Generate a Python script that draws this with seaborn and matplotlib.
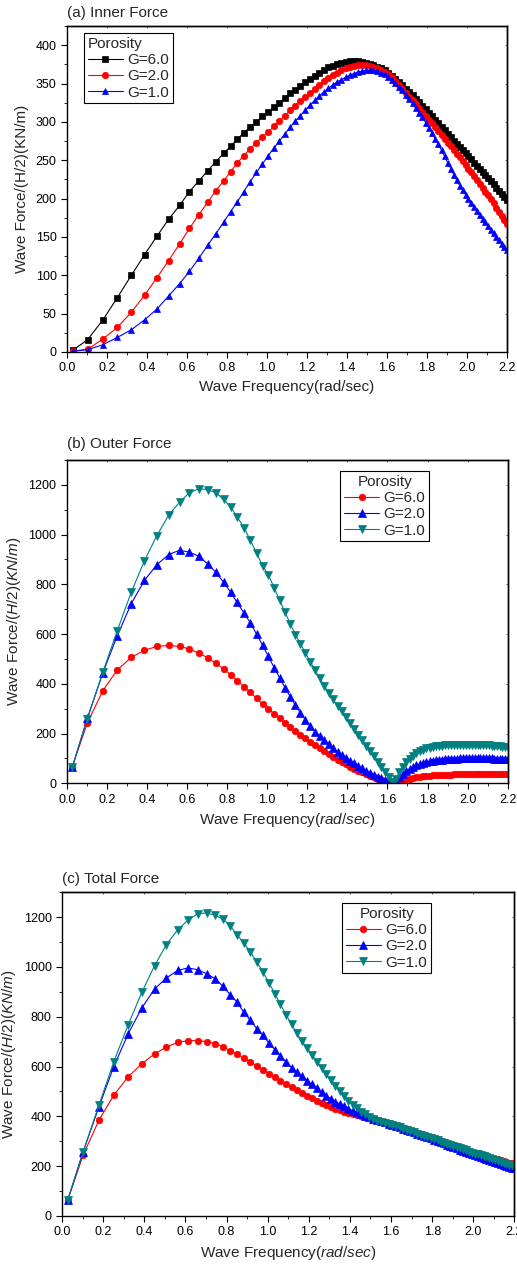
import numpy as np
import pandas as pd
import matplotlib
matplotlib.use("Agg")
import matplotlib.pyplot as plt
from matplotlib.ticker import MultipleLocator, FormatStrFormatter, NullFormatter
import seaborn as sns

# ---------------- data ----------------
freq = [0.028, 0.103, 0.180, 0.252, 0.322, 0.388, 0.450, 0.508, 0.563, 0.612,
        0.659, 0.703, 0.744, 0.783, 0.818, 0.850, 0.884, 0.916, 0.947, 0.977,
        1.006, 1.035, 1.062, 1.089, 1.116, 1.141, 1.166, 1.191, 1.215, 1.239,
        1.262, 1.285, 1.307, 1.329, 1.351, 1.372, 1.393, 1.414, 1.434, 1.454,
        1.474, 1.494, 1.513, 1.532, 1.551, 1.569, 1.588, 1.606, 1.624, 1.642,
        1.659, 1.676, 1.694, 1.711, 1.728, 1.744, 1.761, 1.777, 1.794, 1.810,
        1.826, 1.841, 1.857, 1.873, 1.888, 1.903, 1.919, 1.934, 1.949, 1.963,
        1.978, 1.993, 2.007, 2.022, 2.036, 2.050, 2.064, 2.078, 2.092, 2.106,
        2.120, 2.133, 2.147, 2.160, 2.174, 2.187, 2.200]

# (a) Inner force
inner_g6 = [2, 16, 42, 71, 100, 127, 151, 173, 191, 209,
            223, 236, 248, 259, 268, 277, 286, 293, 300, 307,
            313, 319, 325, 331, 337, 342, 347, 352, 356, 360,
            364, 368, 371, 373, 375, 377, 378, 379, 379, 379,
            378, 377, 376, 374, 372, 370, 367, 364, 360, 356,
            352, 348, 343, 339, 335, 330, 326, 321, 317, 312,
            307, 303, 298, 293, 289, 284, 280, 275, 271, 267,
            263, 259, 255, 251, 247, 243, 239, 235, 231, 227,
            223, 219, 214, 210, 206, 202, 198]
inner_g2 = [1, 3.5, 17, 32, 52, 74, 97, 119, 141, 161,
            179, 195, 210, 223, 235, 246, 256, 265, 273, 280,
            287, 294, 301, 308, 315, 321, 327, 333, 338, 343,
            348, 353, 357, 361, 364, 367, 370, 372, 373, 374,
            374, 374, 373, 372, 370, 368, 365, 362, 358, 353,
            348, 343, 338, 333, 328, 323, 318, 313, 308, 303,
            298, 293, 288, 283, 278, 273, 268, 263, 258, 254,
            249, 244, 239, 234, 229, 224, 219, 214, 209, 204,
            199, 194, 188, 183, 177, 172, 167]
inner_g1 = [1, 3, 9.5, 19, 29, 42, 56, 73, 89, 105,
            122, 139, 154, 169, 183, 195, 209, 222, 234, 245,
            256, 266, 275, 284, 293, 301, 308, 315, 322, 328,
            334, 339, 344, 348, 352, 355, 358, 361, 363, 365,
            366, 367, 367, 367, 366, 364, 362, 359, 355, 351,
            346, 341, 335, 330, 324, 318, 312, 306, 299, 292,
            285, 278, 271, 263, 255, 247, 239, 231, 224, 217,
            211, 205, 199, 194, 189, 184, 179, 174, 169, 164,
            159, 155, 150, 146, 141, 137, 133]

# (b) Outer force
outer_g6 = [67, 242, 372, 455, 506, 535, 550, 554, 550, 540,
            523, 505, 482, 460, 436, 413, 389, 365, 342, 319,
            299, 280, 262, 243, 226, 210, 196, 181, 167, 153,
            140, 128, 117, 106, 95, 85, 76, 67, 59, 51,
            44, 37, 31, 25, 19, 14, 9, 5, 1, 3,
            8, 12, 16, 19, 22, 25, 27, 29, 30, 31,
            32, 33, 34, 34, 35, 35, 35, 36, 36, 36,
            36, 36, 36, 36, 36, 37, 37, 37, 37, 37,
            37, 37, 37, 37, 37, 37, 37]
outer_g2 = [65, 262, 443, 593, 722, 816, 879, 919, 937, 929,
            913, 882, 848, 808, 768, 727, 685, 645, 600, 555,
            510, 465, 424, 385, 347, 313, 283, 255, 230, 208,
            189, 172, 156, 141, 127, 114, 102, 91, 80, 70,
            60, 51, 42, 34, 26, 20, 12, 6, 2, 10,
            25, 37, 48, 57, 65, 72, 77, 81, 85, 88,
            90, 92, 94, 95, 96, 97, 98, 99, 99, 100,
            100, 100, 100, 100, 100, 100, 100, 100, 100, 100,
            100, 99, 99, 98, 98, 97, 97]
outer_g1 = [65, 258, 446, 613, 768, 895, 996, 1077, 1130, 1168,
            1184, 1181, 1168, 1141, 1111, 1071, 1028, 978, 925, 875,
            838, 786, 736, 688, 640, 598, 561, 524, 489, 455,
            422, 392, 363, 337, 312, 289, 265, 241, 219, 196,
            174, 151, 130, 108, 87, 66, 45, 25, 6, 18,
            45, 66, 84, 99, 111, 121, 129, 135, 140, 143,
            146, 148, 150, 151, 152, 153, 154, 154, 154, 155,
            155, 155, 155, 154, 154, 154, 153, 153, 152, 152,
            151, 150, 149, 148, 147, 146, 145]

# (c) Total force
total_g6 = [64, 245, 385, 485, 559, 611, 651, 678, 697, 704,
            704, 700, 692, 680, 662, 649, 634, 619, 603, 588,
            572, 557, 543, 530, 518, 506, 494, 482, 472, 462,
            453, 445, 438, 431, 425, 419, 414, 409, 405, 401,
            397, 393, 389, 385, 381, 378, 374, 370, 365, 360,
            355, 350, 345, 340, 335, 330, 326, 321, 316, 311,
            307, 302, 298, 293, 289, 284, 280, 275, 271, 267,
            262, 258, 254, 251, 247, 244, 240, 237, 233, 230,
            227, 223, 220, 217, 214, 211, 208]
total_g2 = [64, 258, 439, 600, 732, 835, 911, 956, 986, 996,
            989, 973, 953, 922, 888, 860, 818, 786, 752, 726,
            694, 668, 643, 618, 595, 577, 560, 543, 528, 512,
            497, 483, 470, 459, 449, 440, 431, 423, 416, 409,
            402, 396, 391, 385, 380, 376, 371, 366, 361, 356,
            351, 346, 341, 336, 331, 326, 321, 316, 311, 306,
            301, 296, 291, 286, 281, 276, 271, 266, 261, 257,
            252, 248, 244, 240, 236, 232, 228, 224, 220, 216,
            212, 208, 204, 200, 197, 194, 191]
total_g1 = [64, 258, 446, 620, 768, 898, 1005, 1090, 1150, 1187,
            1213, 1217, 1208, 1192, 1166, 1130, 1097, 1060, 1020, 980,
            937, 893, 850, 808, 770, 735, 703, 675, 648, 620,
            594, 568, 545, 522, 500, 480, 462, 446, 432, 419,
            408, 398, 390, 383, 377, 373, 369, 366, 361, 356,
            351, 346, 341, 336, 331, 326, 322, 317, 312, 307,
            303, 298, 294, 289, 285, 280, 276, 271, 267, 263,
            258, 254, 250, 247, 243, 240, 236, 233, 229, 226,
            222, 218, 214, 210, 206, 203, 200]

labels = ["G=6.0", "G=2.0", "G=1.0"]

# ---------------- style ----------------
sns.set_style("ticks")
plt.rcParams["font.family"] = ["Liberation Sans", "DejaVu Sans"]
plt.rcParams["mathtext.fontset"] = "custom"
plt.rcParams["mathtext.rm"] = "Liberation Sans"
plt.rcParams["mathtext.it"] = "Liberation Sans:italic"
plt.rcParams["axes.linewidth"] = 1.0
plt.rcParams["axes.edgecolor"] = "black"

fig = plt.figure(figsize=(5.17, 12.67), dpi=100)


def draw(ax, ys, colors, markers, msizes, ylim, ymaj, ymin, title, tpad,
         xlabel, ylabel, ylpad, anchor, align):
    frames = [pd.DataFrame({"freq": freq, "force": y, "G": lab})
              for lab, y in zip(labels, ys)]
    df = pd.concat(frames, ignore_index=True)
    sns.lineplot(data=df, x="freq", y="force", hue="G", hue_order=labels,
                 style="G", style_order=labels,
                 markers=dict(zip(labels, markers)), dashes=False,
                 palette=dict(zip(labels, colors)), linewidth=0.8,
                 estimator=None, errorbar=None, legend=False, ax=ax)
    for line, ms in zip(ax.lines, msizes):
        line.set_markersize(ms)
        line.set_markeredgecolor(line.get_color())
        line.set_markeredgewidth(0.5)

    ax.set_xlim(0, 2.2)
    ax.set_ylim(*ylim)
    ax.xaxis.set_major_locator(MultipleLocator(0.2))
    ax.xaxis.set_minor_locator(MultipleLocator(0.1))
    ax.xaxis.set_major_formatter(FormatStrFormatter("%.1f"))
    ax.yaxis.set_major_locator(MultipleLocator(ymaj))
    ax.yaxis.set_minor_locator(MultipleLocator(ymin))
    ax.tick_params(which="major", direction="out", length=4, width=0.8,
                   labelsize=9, colors="black")
    ax.tick_params(which="minor", direction="out", length=2.2, width=0.7)
    ax.set_xlabel(xlabel, fontsize=11, labelpad=4)
    ax.set_ylabel(ylabel, fontsize=11, labelpad=ylpad)
    ax.set_title(title, loc="left", fontsize=11, pad=tpad)

    sx = ax.secondary_xaxis("top")
    sx.xaxis.set_major_locator(MultipleLocator(0.2))
    sx.xaxis.set_major_formatter(NullFormatter())
    sx.tick_params(direction="in", length=1.5, width=0.5)
    sy = ax.secondary_yaxis("right")
    sy.yaxis.set_major_locator(MultipleLocator(ymaj))
    sy.yaxis.set_major_formatter(NullFormatter())
    sy.tick_params(direction="in", length=1.5, width=0.5)

    leg = ax.legend(handles=ax.lines[:3], labels=labels, title="Porosity",
                    loc="upper left", bbox_to_anchor=anchor, borderaxespad=0,
                    frameon=True, fancybox=False, framealpha=1,
                    edgecolor="black", fontsize=11, title_fontsize=11,
                    handlelength=2.3, handletextpad=0.3, labelspacing=0.15,
                    borderpad=0.25, numpoints=1, alignment=align)
    leg.get_frame().set_linewidth(0.8)


ylab_plain = "Wave Force/(H/2)(KN/m)"
ylab_it = r"Wave Force/($\mathit{H/2}$)($\mathit{KN/m}$)"
xlab_plain = "Wave Frequency(rad/sec)"
xlab_it = r"Wave Frequency($\mathit{rad/sec}$)"

axA = fig.add_axes([0.1296, 0.7222, 0.851, 0.2573])
draw(axA, [inner_g6, inner_g2, inner_g1], ["#000000", "#FF0000", "#0000FF"],
     ["s", "o", "^"], [4.3, 4.6, 5.0], (0, 425), 50, 25,
     "(a) Inner Force", 6.3, xlab_plain, ylab_plain, 5,
     (0.0386, 0.9785), "left")

axB = fig.add_axes([0.129, 0.3818, 0.853, 0.2552])
draw(axB, [outer_g6, outer_g2, outer_g1], ["#FF0000", "#0000FF", "#008080"],
     ["o", "^", "v"], [4.7, 5.5, 5.5], (0, 1300), 200, 100,
     "(b) Outer Force", 8.6, xlab_it, ylab_it, 4,
     (0.62, 0.966), "center")

axC = fig.add_axes([0.1199, 0.0403, 0.8752, 0.2555])
draw(axC, [total_g6, total_g2, total_g1], ["#FF0000", "#0000FF", "#008080"],
     ["o", "^", "v"], [4.7, 5.5, 5.5], (0, 1300), 200, 100,
     "(c) Total Force", 6.5, xlab_it, ylab_it, 4,
     (0.619, 0.967), "center")

fig.savefig("out.png", dpi=100)
